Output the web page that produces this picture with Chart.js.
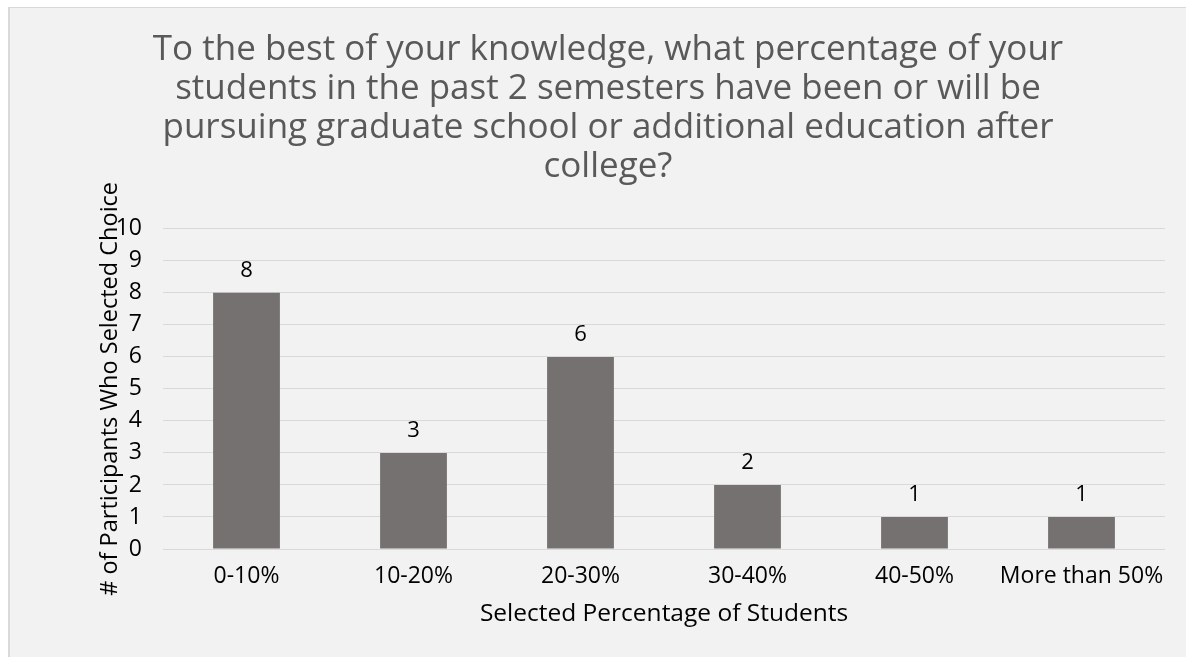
<!DOCTYPE html>
<html>
<head>
<meta charset="utf-8">
<script src="https://cdn.jsdelivr.net/npm/chart.js@4/dist/chart.umd.min.js"></script>
<style>
    html, body { margin: 0; padding: 0; background: #fff; overflow: hidden; }
    #frame {
        position: absolute; left: 8px; top: 7px; width: 1260px; height: 700px;
        background: #F2F2F2; border-left: 2px solid #D9D9D9; border-top: 1px solid #D9D9D9;
    }
    #wrap { position: absolute; left: 0; top: 0; width: 1216px; height: 657px; }
</style>
</head>
<body>
<div id="frame"></div>
<div id="wrap"><canvas id="chart" width="1216" height="657"></canvas></div>
<script>
const TITLE_LINES = [
    'To the best of your knowledge, what percentage of your',
    'students in the past 2 semesters have been or will be',
    'pursuing graduate school or additional education after',
    'college?',
];
const categories = ['0-10%', '10-20%', '20-30%', '30-40%', '40-50%', 'More than 50%'];
const counts = [8, 3, 6, 2, 1, 1];
const Y_MIN = 0;
const Y_MAX = 10;
const Y_STEP = 1;

const FONT = '"Open Sans", sans-serif';
const BAR = '#767171';
const GRID = '#D9D9D9';

// prints each count just above its bar
const valueLabels = {
    id: 'valueLabels',
    afterDatasetsDraw(chart) {
        const ctx = chart.ctx;
        const meta = chart.getDatasetMeta(0);
        ctx.save();
        ctx.font = '22px ' + FONT;
        ctx.fillStyle = '#000';
        ctx.textAlign = 'center';
        ctx.textBaseline = 'alphabetic';
        meta.data.forEach((bar, i) => {
            ctx.fillText(String(counts[i]), bar.x, bar.y - 16);
        });
        ctx.restore();
    },
};

new Chart(document.getElementById('chart'), {
    type: 'bar',
    data: {
        labels: categories,
        datasets: [{
            data: counts,
            backgroundColor: BAR,
            borderWidth: 0,
            barPercentage: 0.4,
            categoryPercentage: 1,
        }],
    },
    options: {
        responsive: false,
        animation: false,
        // equal side padding keeps the title centred on the whole frame
        layout: { padding: { left: 51, right: 51, top: 0, bottom: 0 } },
        plugins: {
            legend: { display: false },
            tooltip: { enabled: false },
            title: {
                display: true,
                text: TITLE_LINES,
                color: '#595959',
                font: { family: FONT, size: 35, weight: 'normal', lineHeight: 1.12 },
                padding: { top: 30, bottom: 42 },
            },
        },
        scales: {
            x: {
                grid: { display: false, drawTicks: false },
                border: { display: false },
                ticks: {
                    color: '#000',
                    font: { family: FONT, size: 23 },
                    padding: 14,
                    autoSkip: false,
                    minRotation: 0,
                    maxRotation: 0,
                },
                title: {
                    display: true,
                    text: 'Selected Percentage of Students',
                    color: '#000',
                    font: { family: FONT, size: 24.5 },
                    padding: { top: 0, bottom: 28 },
                },
                afterFit(scale) { scale.height = 108; },
            },
            y: {
                min: Y_MIN,
                max: Y_MAX,
                grid: { color: GRID, lineWidth: 1, drawTicks: false },
                border: { display: false },
                ticks: { stepSize: Y_STEP, color: '#000', font: { family: FONT, size: 23 }, padding: 21 },
                title: {
                    display: true,
                    text: '# of Participants Who Selected Choice',
                    color: '#000',
                    font: { family: FONT, size: 23.5 },
                    padding: { top: 45, bottom: 0 },
                },
                afterFit(scale) { scale.width = 112; },
            },
        },
    },
    plugins: [valueLabels],
});
</script>
</body>
</html>
